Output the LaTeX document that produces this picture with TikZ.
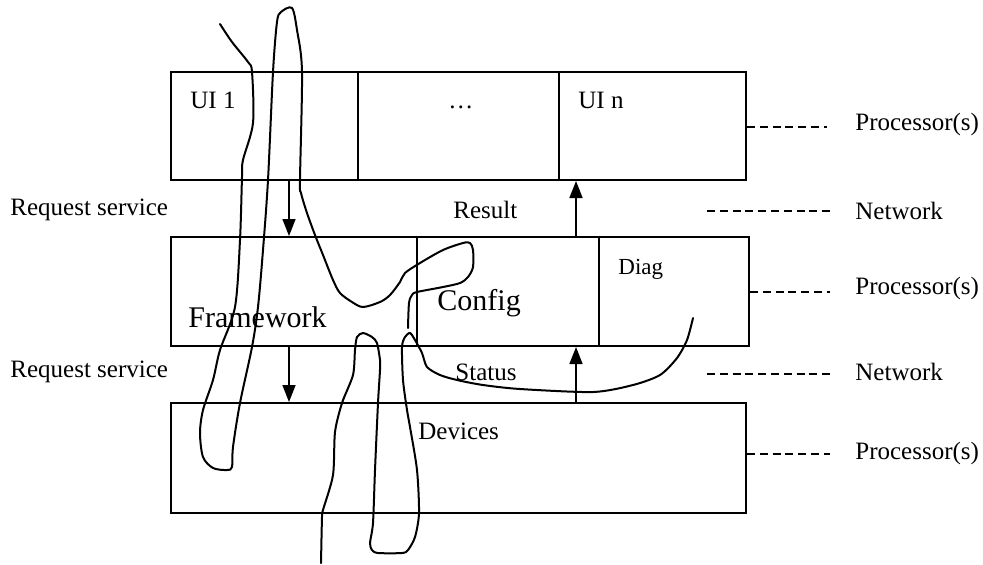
\documentclass[tikz,border=0pt]{standalone}
\usepackage{fontspec}
\setmainfont{Liberation Serif}
\usetikzlibrary{arrows.meta,fit}
\begin{document}
\begin{tikzpicture}[x=0.5pt,y=-0.5pt,
  cell/.style={draw, line width=1pt, inner sep=0pt, fit={#1}},
  lbl/.style={anchor=base west, inner sep=0pt, font=\fontsize{12.5}{15}\selectfont},
  big/.style={anchor=base west, inner sep=0pt, font=\fontsize{15}{18}\selectfont},
  flow/.style={line width=0.8pt, -{Triangle[length=8.5pt,width=6.5pt]}},
  dashline/.style={line width=0.7pt, dash pattern=on 4pt off 2.4pt},
  pen/.style={line width=1pt, line join=round, line cap=round}
]
\useasboundingbox (0,0) rectangle (983,564);

% boxes
\node[cell={(171,72)(358,180)}] (ui1) {};
\node[cell={(358,72)(559,180)}] (dots) {};
\node[cell={(559,72)(746,180)}] (uin) {};
\node[cell={(171,237)(417,346)}] (fw) {};
\node[cell={(417,237)(599,346)}] (cfg) {};
\node[cell={(599,237)(749,346)}] (diag) {};
\node[cell={(171,403)(746,513)}] (dev) {};

% texts
\node[lbl] (t-ui1) at (190,108) {UI 1};
\node[lbl] (t-dots) at (448,108) {…};
\node[lbl] (t-uin) at (578,108) {UI n};
\node[lbl] (t-res) at (453,218) {Result};
\node[lbl] (t-req1) at (10,215) {Request service};
\node[lbl] (t-req2) at (10,377) {Request service};
\node[big] (t-fw) at (188,327) {Framework};
\node[big] (t-cfg) at (437,310) {Config};
\node[lbl, font=\fontsize{11.5}{14}\selectfont] (t-diag) at (618,274) {Diag};
\node[lbl] (t-status) at (455,380) {Status};
\node[lbl] (t-dev) at (418,439) {Devices};
\node[lbl] (t-p1) at (855,130) {Processor(s)};
\node[lbl] (t-n1) at (855,219) {Network};
\node[lbl] (t-p2) at (855,294) {Processor(s)};
\node[lbl] (t-n2) at (855,380) {Network};
\node[lbl] (t-p3) at (855,459) {Processor(s)};

% arrows
\coordinate (ax) at (289,0);
\coordinate (bx) at (576,0);
\draw[flow] (ui1.south -| ax) -- (fw.north -| ax);
\draw[flow] (fw.south -| ax) -- (dev.north -| ax);
\draw[flow] (dev.north -| bx) -- (cfg.south -| bx);
\draw[flow] (cfg.north -| bx) -- (uin.south -| bx);

% dashed leaders
\coordinate (p1) at (827,127);
\draw[dashline] (uin.east |- p1) -- (p1);
\coordinate (n1a) at (707,211);
\coordinate (n1b) at (833,211);
\draw[dashline] (n1a) -- (n1b);
\coordinate (p2) at (830,292);
\draw[dashline] (diag.east |- p2) -- (p2);
\coordinate (n2a) at (707,374);
\coordinate (n2b) at (833,374);
\draw[dashline] (n2a) -- (n2b);
\coordinate (p3) at (830,454);
\draw[dashline] (dev.east |- p3) -- (p3);

% freehand strokes
\draw[pen] plot[smooth, tension=0.5] coordinates {
 (220,24) (232,42) (248,62) (252,72) (253,123) (243,160) (242,177)
 (240,240) (235,307) (220,350) (213,380) (203,410) (200,433) (203,457)
 (213,468) (227,470) (232,467) (233,447) (240,403) (252,347) (258,307)
 (263,250) (268,180) (273,72) (277,22) (281,12) (292,8) (297,30) (302,72)
 (300,180) (301,193) (307,213) (315,235) (323,255) (333,280) (340,293)
 (352,302) (363,307) (380,302) (390,295) (400,282) (405,273) (420,263)
 (443,250) (463,243) (470,243) (473,250) (473,267) (468,277) (460,283)
 (443,287) (417,292) (412,295) (409,303) (408,328)};
\draw[pen] plot[smooth, tension=0.45] coordinates {
 (693,318) (687,340) (677,358) (660,375) (633,385) (593,392) (520,389)
 (483,385) (457,380) (440,375) (427,367) (422,353) (415,340) (410,333)
 (405,337) (402,347) (403,380) (407,410) (410,427) (417,470) (419,513)
 (415,537) (408,550) (402,553) (378,553) (372,550) (370,543) (373,523)
 (375,470) (378,403) (380,370) (380,360) (377,343) (372,337) (363,333)
 (357,337) (355,350) (353,375) (342,403) (335,432) (333,475) (323,510)
 (322,517) (321,563)};
\end{tikzpicture}
\end{document}
